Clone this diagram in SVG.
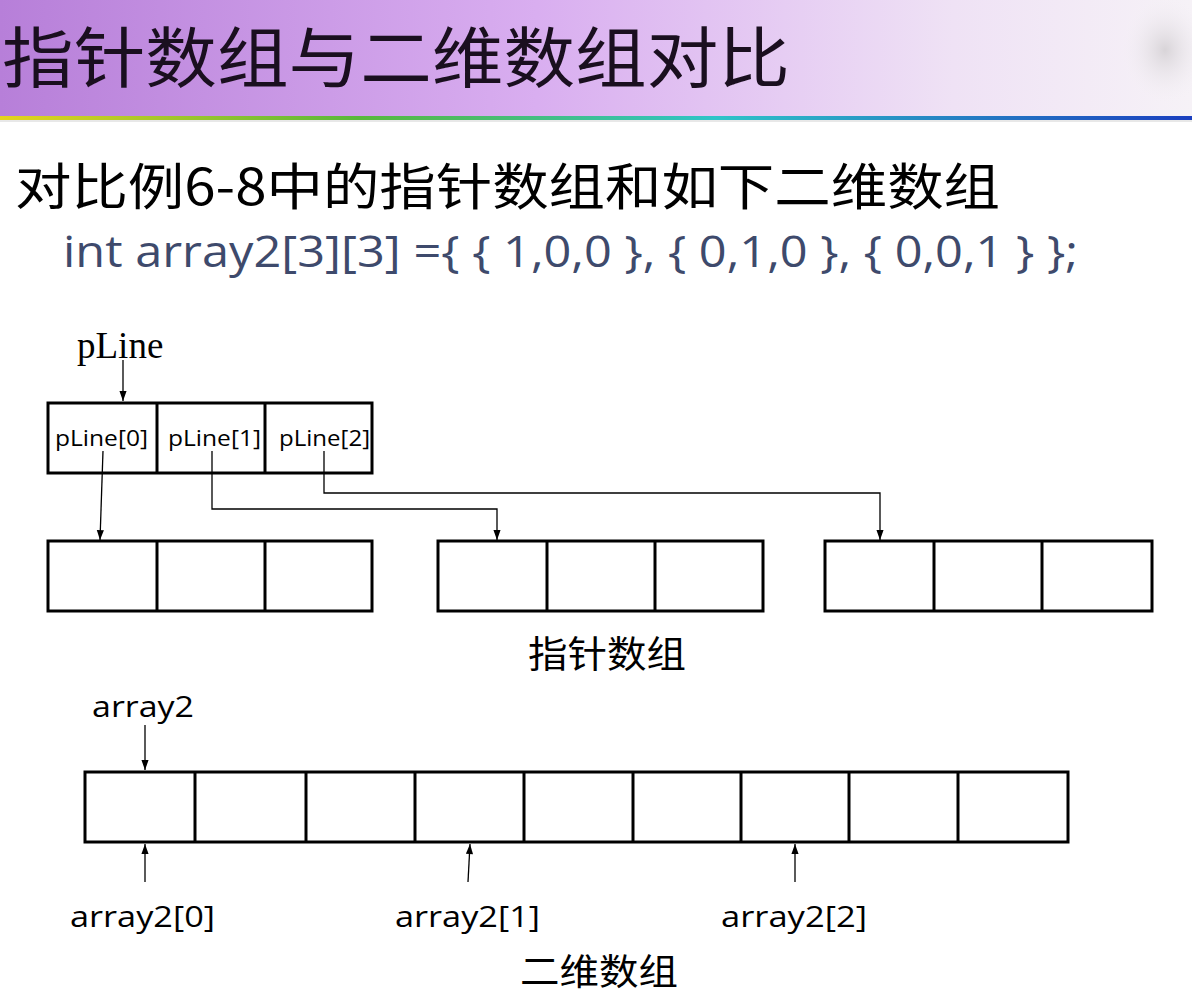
<svg xmlns="http://www.w3.org/2000/svg" width="1192" height="994" viewBox="0 0 1192 994">
<defs>
<linearGradient id="hdr" x1="0" y1="0" x2="1" y2="0">
<stop offset="0" stop-color="#b77fd9"/>
<stop offset="0.45" stop-color="#d9aef0"/>
<stop offset="0.8" stop-color="#efe2f5"/>
<stop offset="1" stop-color="#f6f2f7"/>
</linearGradient>
<linearGradient id="rb" x1="0" y1="0" x2="1" y2="0">
<stop offset="0" stop-color="#e6d41c"/>
<stop offset="0.3" stop-color="#58b83a"/>
<stop offset="0.6" stop-color="#2ec4c8"/>
<stop offset="1" stop-color="#1b3fbf"/>
</linearGradient>
<radialGradient id="blob" cx="0.5" cy="0.5" r="0.5">
<stop offset="0" stop-color="#d8d4d8"/>
<stop offset="1" stop-color="#f6f2f7" stop-opacity="0"/>
</radialGradient>
<marker id="ah" viewBox="0 0 10 14" refX="14" refY="5" markerWidth="14" markerHeight="10" markerUnits="userSpaceOnUse" orient="auto">
<path d="M0,0 L14,5 L0,10 z" fill="#000"/>
</marker>
<style>
.cell{fill:#fff;stroke:#000;stroke-width:3}
.div{stroke:#000;stroke-width:3}
.con{fill:none;stroke:#000;stroke-width:1.3;marker-end:url(#ah)}
.lbl{font-family:"Open Sans","Noto Sans","Liberation Sans",sans-serif;fill:#000}
.cjk{font-family:"Noto Sans CJK SC",sans-serif;fill:#000}
</style>
</defs>
<rect width="1192" height="994" fill="#fff"/>
<rect x="0" y="0" width="1192" height="116" fill="url(#hdr)"/>
<ellipse cx="1165" cy="50" rx="45" ry="55" fill="url(#blob)"/>
<rect x="0" y="116" width="1192" height="4" fill="url(#rb)"/>
<rect x="0" y="120" width="1192" height="2" fill="#e8e8e8"/>
<text x="2" y="82" font-family="'Noto Sans CJK SC',sans-serif" font-size="66" fill="#1a0f1f" textLength="788" lengthAdjust="spacingAndGlyphs">指针数组与二维数组对比</text>
<text x="15" y="205" class="cjk" font-size="50" textLength="985" lengthAdjust="spacingAndGlyphs">对比例6-8中的指针数组和如下二维数组</text>
<text x="63" y="267" font-family="'Open Sans','Noto Sans',sans-serif" font-size="44" fill="#3e4a6c" textLength="1015" lengthAdjust="spacingAndGlyphs">int array2[3][3] ={ { 1,0,0 }, { 0,1,0 }, { 0,0,1 } };</text>

<g id="pLineLabel"><text x="77" y="358" font-family="'Liberation Serif',serif" font-size="37" fill="#000">pLine</text></g>

<g id="pLineArr">
<rect class="cell" x="48" y="403" width="324" height="70"/>
<line class="div" x1="157" y1="403" x2="157" y2="473"/>
<line class="div" x1="265" y1="403" x2="265" y2="473"/>
<text class="lbl" x="55" y="446" font-size="21" textLength="93" lengthAdjust="spacingAndGlyphs">pLine[0]</text>
<text class="lbl" x="168" y="446" font-size="21" textLength="93" lengthAdjust="spacingAndGlyphs">pLine[1]</text>
<text class="lbl" x="279" y="446" font-size="21" textLength="91" lengthAdjust="spacingAndGlyphs">pLine[2]</text>
</g>

<g id="row0">
<rect class="cell" x="48" y="541" width="324" height="70"/>
<line class="div" x1="157" y1="541" x2="157" y2="611"/>
<line class="div" x1="265" y1="541" x2="265" y2="611"/>
</g>
<g id="row1">
<rect class="cell" x="438" y="541" width="325" height="70"/>
<line class="div" x1="547" y1="541" x2="547" y2="611"/>
<line class="div" x1="655" y1="541" x2="655" y2="611"/>
</g>
<g id="row2">
<rect class="cell" x="825" y="541" width="327" height="70"/>
<line class="div" x1="934" y1="541" x2="934" y2="611"/>
<line class="div" x1="1042" y1="541" x2="1042" y2="611"/>
</g>
<g id="ptrLabel"><text class="cjk" x="528" y="668" font-size="37" textLength="158" lengthAdjust="spacingAndGlyphs">指针数组</text></g>

<g id="array2Label"><text class="lbl" x="92" y="717" font-size="30" textLength="102" lengthAdjust="spacingAndGlyphs">array2</text></g>

<g id="array2">
<rect class="cell" x="85" y="772" width="983" height="70"/>
<line class="div" x1="195" y1="772" x2="195" y2="842"/>
<line class="div" x1="306" y1="772" x2="306" y2="842"/>
<line class="div" x1="415" y1="772" x2="415" y2="842"/>
<line class="div" x1="524" y1="772" x2="524" y2="842"/>
<line class="div" x1="633" y1="772" x2="633" y2="842"/>
<line class="div" x1="741" y1="772" x2="741" y2="842"/>
<line class="div" x1="849" y1="772" x2="849" y2="842"/>
<line class="div" x1="958" y1="772" x2="958" y2="842"/>
</g>

<g id="subLabels">
<text class="lbl" x="70" y="927" font-size="30" textLength="145" lengthAdjust="spacingAndGlyphs">array2[0]</text>
<text class="lbl" x="395" y="927" font-size="30" textLength="145" lengthAdjust="spacingAndGlyphs">array2[1]</text>
<text class="lbl" x="721" y="927" font-size="30" textLength="146" lengthAdjust="spacingAndGlyphs">array2[2]</text>
</g>
<g id="twoDLabel"><text class="cjk" x="520" y="985" font-size="36" textLength="158" lengthAdjust="spacingAndGlyphs">二维数组</text></g>

<g id="connectors">
<path class="con" d="M123,360 L123,401"/>
<path class="con" d="M103,451 L100,540"/>
<path class="con" d="M212,451 L212,509 L497,509 L497,540"/>
<path class="con" d="M324,451 L324,493 L880,493 L880,540"/>
<path class="con" d="M145,725 L145,770"/>
<path class="con" d="M145,882 L145,844"/>
<path class="con" d="M468,882 L470,844"/>
<path class="con" d="M795,882 L795,844"/>
</g>
</svg>
